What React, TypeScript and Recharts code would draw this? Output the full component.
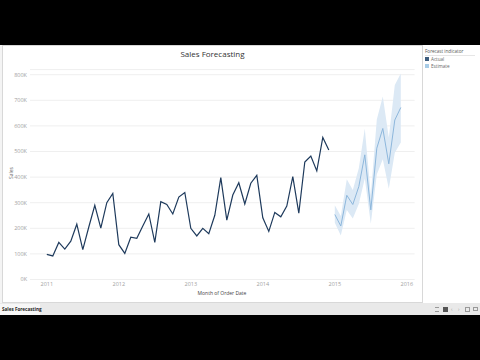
import React from 'react';
import { ComposedChart, Line, Area, XAxis, YAxis, CartesianGrid } from 'recharts';

const yearLabels = ['2011', '2012', '2013', '2014', '2015', '2016'];
const yTicks = [0, 100000, 200000, 300000, 400000, 500000, 600000, 700000, 800000];

// Monthly actual sales Jan 2011 - Dec 2014
const actualSales = [
  98000, 92000, 145000, 119000, 150000, 216000, 117000, 205000, 290000, 201000, 300000, 336000,
  136000, 102000, 165000, 161000, 209000, 256000, 145000, 304000, 293000, 256000, 322000, 340000,
  200000, 170000, 200000, 179000, 251000, 398000, 232000, 330000, 378000, 295000, 376000, 407000,
  241000, 188000, 262000, 245000, 287000, 402000, 259000, 459000, 482000, 424000, 555000, 506000,
];
// Forecast Jan 2015 - Dec 2015
const estimateSales = [254000, 209000, 329000, 293000, 363000, 487000, 272000, 513000, 590000, 452000, 623000, 672000];
const estimateLow = [222000, 172000, 272000, 238000, 295000, 395000, 218000, 410000, 470000, 355000, 495000, 535000];
const estimateHigh = [290000, 248000, 392000, 350000, 435000, 590000, 330000, 625000, 715000, 555000, 760000, 805000];

const rows = Array.from({ length: actualSales.length + estimateSales.length }, (_, i) => {
  const n = actualSales.length;
  return {
    i,
    actual: i < n ? actualSales[i] : null,
    estimate: i >= n ? estimateSales[i - n] : null,
    band: i >= n ? [estimateLow[i - n], estimateHigh[i - n]] : null,
  };
});

const font = '"Open Sans", "Noto Sans", sans-serif';

export default function App() {
  return (
    <div style={{ position: 'absolute', left: 0, top: 0, width: 480, height: 360, background: '#000', overflow: 'hidden', fontFamily: font }}>
      <div style={{ position: 'absolute', left: 0, top: 45, width: 480, height: 270, background: '#f4f4f4' }} />
      <div style={{ position: 'absolute', left: 2, top: 45, width: 421, height: 258, background: '#fff', border: '1px solid #d8d8d8', boxSizing: 'border-box' }} />
      <div style={{ position: 'absolute', left: 423, top: 45, width: 57, height: 258, background: '#fff' }} />
      {/* Title */}
      <div style={{ position: 'absolute', left: 2, width: 421, top: 48, textAlign: 'center', fontSize: 8, color: '#333', lineHeight: '12px' }}>Sales Forecasting</div>
      {/* Legend */}
      <div style={{ position: 'absolute', left: 425, top: 48, fontSize: 4.6, color: '#555', lineHeight: '6px', whiteSpace: 'nowrap' }}>Forecast indicator</div>
      <div style={{ position: 'absolute', left: 425, top: 54.5, width: 50, height: 1, background: '#e6e6e6' }} />
      <div style={{ position: 'absolute', left: 425, top: 57, width: 4, height: 4, background: '#3e5d7e' }} />
      <div style={{ position: 'absolute', left: 431, top: 56, fontSize: 4.6, color: '#666', lineHeight: '6px' }}>Actual</div>
      <div style={{ position: 'absolute', left: 425, top: 64, width: 4, height: 4, background: '#a8cce7' }} />
      <div style={{ position: 'absolute', left: 431, top: 63, fontSize: 4.6, color: '#666', lineHeight: '6px' }}>Estimate</div>
      {/* Axis titles */}
      <div style={{ position: 'absolute', left: 11, top: 173, width: 0, height: 0 }}>
        <div style={{ position: 'absolute', transform: 'translate(-50%,-50%) rotate(-90deg)', fontSize: 5, color: '#666', whiteSpace: 'nowrap', lineHeight: '6px' }}>Sales</div>
      </div>
      <div style={{ position: 'absolute', left: 222, top: 293, width: 0, height: 0 }}>
        <div style={{ position: 'absolute', transform: 'translate(-50%,-50%)', fontSize: 5, color: '#444', whiteSpace: 'nowrap', lineHeight: '6px' }}>Month of Order Date</div>
      </div>
      {/* Tab bar */}
      <div style={{ position: 'absolute', left: 0, top: 303, width: 480, height: 12, background: '#e9e9e9' }} />
      <div style={{ position: 'absolute', left: 0, top: 304, width: 40, height: 11, background: '#f7f7f7' }} />
      <div style={{ position: 'absolute', left: 2, top: 306, fontSize: 4.6, color: '#222', fontWeight: 700, lineHeight: '6px', whiteSpace: 'nowrap' }}>Sales Forecasting</div>
      <div style={{ position: 'absolute', left: 435, top: 307, width: 4, height: 5, borderTop: '1px solid #999', borderBottom: '1px solid #999', boxSizing: 'border-box' }} />
      <div style={{ position: 'absolute', left: 443, top: 307, width: 5, height: 5, background: '#555' }} />
      <div style={{ position: 'absolute', left: 451, top: 305, fontSize: 5, color: '#999', lineHeight: '8px' }}>‹</div>
      <div style={{ position: 'absolute', left: 458, top: 305, fontSize: 5, color: '#999', lineHeight: '8px' }}>›</div>
      <div style={{ position: 'absolute', left: 465, top: 307, width: 5, height: 5, border: '1px dashed #999', boxSizing: 'border-box' }} />
      <div style={{ position: 'absolute', left: 473, top: 307, width: 5, height: 4, border: '1px solid #999', boxSizing: 'border-box' }} />
      {/* Chart */}
      <div style={{ position: 'absolute', left: 0, top: 0 }}>
        <ComposedChart
          width={480}
          height={360}
          data={rows}
          margin={{ top: 69.6, right: 65.4, left: 0, bottom: 60.5 }}
          style={{ fontFamily: font }}
        >
          <CartesianGrid vertical={false} stroke="#efefef" strokeWidth={1} />
          <XAxis
            type="number"
            dataKey="i"
            domain={[-2.8, 61.3]}
            ticks={[0, 12, 24, 36, 48, 60]}
            interval={0}
            tickFormatter={(v: number) => yearLabels[Math.round(v / 12)]}
            axisLine={false}
            tickLine={false}
            tickSize={0}
            tickMargin={3}
            height={20}
            tick={{ fontSize: 5.5, fill: '#a0a0a0' }}
            allowDataOverflow
          />
          <YAxis
            type="number"
            domain={[0, 820000]}
            ticks={yTicks}
            interval={0}
            tickFormatter={(v: number) => `${v / 1000}K`}
            axisLine={false}
            tickLine={false}
            tickSize={0}
            tickMargin={3}
            width={30}
            tick={{ fontSize: 5.5, fill: '#a0a0a0' }}
            allowDataOverflow
          />
          <Area type="linear" dataKey="band" stroke="none" fill="#dce9f5" fillOpacity={1} isAnimationActive={false} connectNulls={false} />
          <Line type="linear" dataKey="actual" stroke="#1e3a5c" strokeWidth={1.2} dot={false} isAnimationActive={false} connectNulls={false} />
          <Line type="linear" dataKey="estimate" stroke="#8db7dc" strokeWidth={1} dot={false} isAnimationActive={false} connectNulls={false} />
        </ComposedChart>
      </div>
    </div>
  );
}
